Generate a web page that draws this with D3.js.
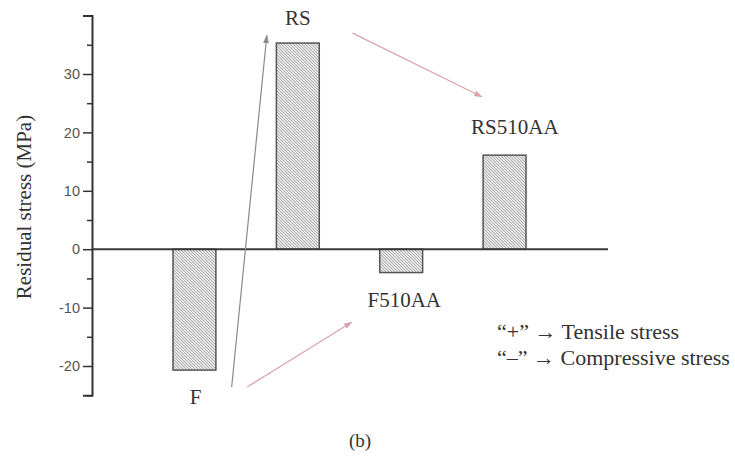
<!DOCTYPE html>
<html>
<head>
<meta charset="utf-8">
<script src="https://cdn.jsdelivr.net/npm/d3@7"></script>
<style>
  html, body { margin: 0; padding: 0; background: #fff; }
  svg { display: block; }
</style>
</head>
<body>
<svg id="chart" width="735" height="457"></svg>
<script>
// Residual stress of the four sample conditions
const categories = ["F", "RS", "F510AA", "RS510AA"];
const stress = [-20.7, 35.3, -4.0, 16.1];          // MPa
const yTicks = [-20, -10, 0, 10, 20, 30];
const yMinorTicks = [-25, -15, -5, 5, 15, 25, 35];

// Sample-name labels: [category, offset in bands, stress level in MPa]
const labels = [
  ["F", 0.01, -25.3],
  ["RS", 0.0, 39.6],
  ["F510AA", 0.03, -8.7],
  ["RS510AA", 0.1, 20.9]
];

// Process arrows, ends given as [band position, MPa]
const arrows = [
  { from: [0.36, -23.6], to: [0.70, 36.6], color: "#8a8a8a" },
  { from: [0.51, -23.6], to: [1.52, -12.5], color: "#d9a3ad" },
  { from: [1.53, 37.0], to: [2.78, 26.1], color: "#d9a3ad" }
];

const legendLines = ["\u201C+\u201D \u2192 Tensile stress", "\u201C\u2013\u201D \u2192 Compressive stress"];

const serif = "'Liberation Serif', 'Times New Roman', serif";
const svg = d3.select("#chart");

const axisX = 92;
const y = d3.scaleLinear().domain([-25, 40]).range([395.2, 15.6]);
const x = d3.scaleBand().domain(categories).range([173, 526])
  .paddingInner(0.585).paddingOuter(0);
// continuous band position -> pixels (0 = centre of first band)
const xPos = d3.scaleLinear().domain([0, 1])
  .range([x(categories[0]) + x.bandwidth() / 2, x(categories[1]) + x.bandwidth() / 2]);

// Hatched fill for the bars
const defs = svg.append("defs");
const pat = defs.append("pattern").attr("id", "hatch")
  .attr("patternUnits", "userSpaceOnUse").attr("width", 3).attr("height", 3);
pat.append("rect").attr("width", 3).attr("height", 3).attr("fill", "#e2e2e2");
pat.append("path").attr("d", "M-1,-1 L4,4").attr("stroke", "#ababab").attr("stroke-width", 0.8);

const marker = (id, color) => defs.append("marker").attr("id", id)
  .attr("viewBox", "0 0 10 10").attr("refX", 9).attr("refY", 5)
  .attr("markerWidth", 7).attr("markerHeight", 7).attr("orient", "auto")
  .append("path").attr("d", "M0,1.5 L10,5 L0,8.5 Z").attr("fill", color);
marker("head-gray", "#8a8a8a");
marker("head-pink", "#d9a3ad");

// Bars
svg.append("g").selectAll("rect")
  .data(categories.map((c, i) => ({ c, v: stress[i] })))
  .join("rect")
  .attr("x", d => x(d.c))
  .attr("width", x.bandwidth())
  .attr("y", d => y(Math.max(0, d.v)))
  .attr("height", d => Math.abs(y(d.v) - y(0)))
  .attr("fill", "url(#hatch)")
  .attr("stroke", "#555")
  .attr("stroke-width", 1.5);

// Zero line
svg.append("line")
  .attr("x1", axisX).attr("x2", 608)
  .attr("y1", y(0)).attr("y2", y(0))
  .attr("stroke", "#3a3a3a").attr("stroke-width", 2);

// Y axis
const yAxis = svg.append("g").attr("transform", `translate(${axisX},0)`)
  .call(d3.axisLeft(y).tickValues(yTicks).tickSize(9).tickPadding(3).tickFormat(d => String(d)));
yAxis.select(".domain").attr("stroke", "#333").attr("stroke-width", 2);
yAxis.selectAll(".tick line").attr("stroke", "#333").attr("stroke-width", 1.5);
yAxis.selectAll(".tick text").attr("fill", "#555")
  .style("font-family", "'Liberation Sans', Arial, sans-serif").style("font-size", "14.5px");
svg.append("g").attr("transform", `translate(${axisX},0)`)
  .call(d3.axisLeft(y).tickValues(yMinorTicks).tickSize(5).tickFormat(""))
  .call(g => g.select(".domain").remove())
  .selectAll(".tick line").attr("stroke", "#333").attr("stroke-width", 1.5);

// Y axis title
svg.append("text")
  .attr("transform", `translate(31,${207}) rotate(-90)`)
  .attr("text-anchor", "middle")
  .style("font-family", serif).style("font-size", "21px").attr("fill", "#333")
  .text("Residual stress (MPa)");

// Arrows
svg.append("g").selectAll("line")
  .data(arrows)
  .join("line")
  .attr("x1", d => xPos(d.from[0])).attr("y1", d => y(d.from[1]))
  .attr("x2", d => xPos(d.to[0])).attr("y2", d => y(d.to[1]))
  .attr("stroke", d => d.color).attr("stroke-width", 1.2)
  .attr("marker-end", d => d.color === "#8a8a8a" ? "url(#head-gray)" : "url(#head-pink)");

// Sample labels
svg.append("g").selectAll("text")
  .data(labels)
  .join("text")
  .attr("x", d => xPos(categories.indexOf(d[0]) + d[1]))
  .attr("y", d => y(d[2]))
  .attr("dy", "0.35em")
  .attr("text-anchor", "middle")
  .style("font-family", serif).style("font-size", "21px").attr("fill", "#333")
  .text(d => d[0]);

// Sign convention note
svg.append("g").selectAll("text")
  .data(legendLines)
  .join("text")
  .attr("x", 497)
  .attr("y", (d, i) => 331 + i * 26)
  .attr("dy", "0.35em")
  .style("font-family", serif).style("font-size", "22px").attr("fill", "#333")
  .text(d => d);

// Panel tag
svg.append("text")
  .attr("x", 360).attr("y", 440).attr("dy", "0.35em")
  .attr("text-anchor", "middle")
  .style("font-family", serif).style("font-size", "19px").attr("fill", "#333")
  .text("(b)");
</script>
</body>
</html>
